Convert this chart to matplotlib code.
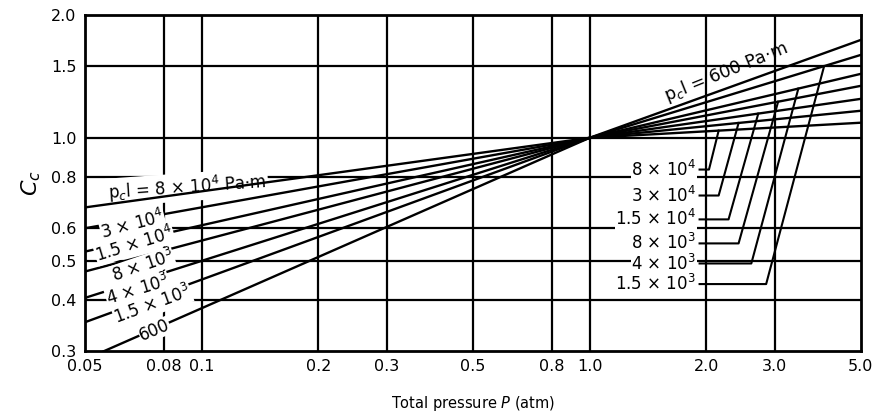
import numpy as np
import matplotlib
matplotlib.use('Agg')
import matplotlib.pyplot as plt

# p_c*l values, top line at P = 0.05 first
pcl_names = ['8 × 10$^4$', '3 × 10$^4$', '1.5 × 10$^4$', '8 × 10$^3$',
             '4 × 10$^3$', '1.5 × 10$^3$', '600']

# every curve passes through (1, 1); values read at P = 0.05 and P = 5.0
P_pts = [0.05, 1.0, 5.0]
C_low = [0.675, 0.600, 0.526, 0.470, 0.405, 0.353, 0.286]
C_high = [1.089, 1.165, 1.246, 1.341, 1.435, 1.597, 1.738]

# leader lines for the right-hand labels (600 has its own label)
vertex_p = [2.15, 2.42, 2.72, 3.06, 3.45, 4.02]
knee_p = [2.03, 2.15, 2.28, 2.42, 2.61, 2.85]
knee_c = [0.836, 0.722, 0.631, 0.551, 0.492, 0.438]
leader_start_p = 1.92

# inline labels on the left (centre P, centre C, angle)
left_lab_p = [0.0664, 0.0672, 0.0705, 0.0684, 0.0748, 0.0757]
left_lab_c = [0.613, 0.547, 0.485, 0.424, 0.389, 0.337]
left_lab_rot = [15, 17, 19, 17, 20, 23]

x_ticks = [0.05, 0.08, 0.1, 0.2, 0.3, 0.5, 0.8, 1.0, 2.0, 3.0, 5.0]
x_ticklabels = ['0.05', '0.08', '0.1', '0.2', '0.3', '0.5', '0.8', '1.0', '2.0', '3.0', '5.0']
y_ticks = [0.3, 0.4, 0.5, 0.6, 0.8, 1.0, 1.5, 2.0]
y_ticklabels = ['0.3', '0.4', '0.5', '0.6', '0.8', '1.0', '1.5', '2.0']


def curve(i, p):
    # straight lines on log-log axes between the read points
    c = [C_low[i], 1.0, C_high[i]]
    return 10 ** np.interp(np.log10(p), np.log10(P_pts), np.log10(c))


fig = plt.figure(figsize=(8.74, 4.17), dpi=100)
ax = fig.add_axes([0.097, 0.158, 0.888, 0.806])
ax.set_xscale('log')
ax.set_yscale('log')
ax.set_xlim(0.05, 5.0)
ax.set_ylim(0.3, 2.0)

ax.set_xticks(x_ticks)
ax.set_xticklabels(x_ticklabels)
ax.set_yticks(y_ticks)
ax.set_yticklabels(y_ticklabels)
ax.minorticks_off()
ax.tick_params(length=0, labelsize=11.5, pad=6)
for s in ax.spines.values():
    s.set_linewidth(2)

for v in x_ticks[1:-1]:
    ax.axvline(v, color='black', lw=1.6, zorder=1)
for v in y_ticks[1:-1]:
    ax.axhline(v, color='black', lw=1.6, zorder=1)

p = np.logspace(np.log10(0.05), np.log10(5.0), 200)
for i in range(len(pcl_names)):
    ax.plot(p, curve(i, p), color='black', lw=1.7, zorder=2)

# left inline labels
for i in range(1, len(pcl_names)):
    ax.text(left_lab_p[i - 1], left_lab_c[i - 1], pcl_names[i], rotation=left_lab_rot[i - 1],
            ha='center', va='center', fontsize=12, zorder=4,
            bbox=dict(facecolor='white', edgecolor='none', pad=0.3))

ax.text(0.057, 0.757, 'p$_c$l = 8 × 10$^4$ Pa·m', rotation=4, ha='left', va='center',
        fontsize=12, zorder=1.5,
        bbox=dict(facecolor='white', edgecolor='none', pad=1.5))
ax.text(2.25, 1.45, 'p$_c$l = 600 Pa·m', rotation=22, ha='center', va='center',
        fontsize=12.5, zorder=4)

# right labels with leader lines
for i in range(6):
    vc = curve(i, vertex_p[i])
    ax.plot([leader_start_p, knee_p[i], vertex_p[i]], [knee_c[i], knee_c[i], vc],
            color='black', lw=1.5, zorder=3)
    ax.text(leader_start_p * 0.98, knee_c[i], pcl_names[i], ha='right', va='center',
            fontsize=12, zorder=4,
            bbox=dict(facecolor='white', edgecolor='none', pad=0.3))

ax.set_xlabel('Total pressure $P$ (atm)', fontsize=10.5, labelpad=14)
ax.set_ylabel('$C_c$', fontsize=16, labelpad=6)

fig.savefig('out.png', dpi=100)
